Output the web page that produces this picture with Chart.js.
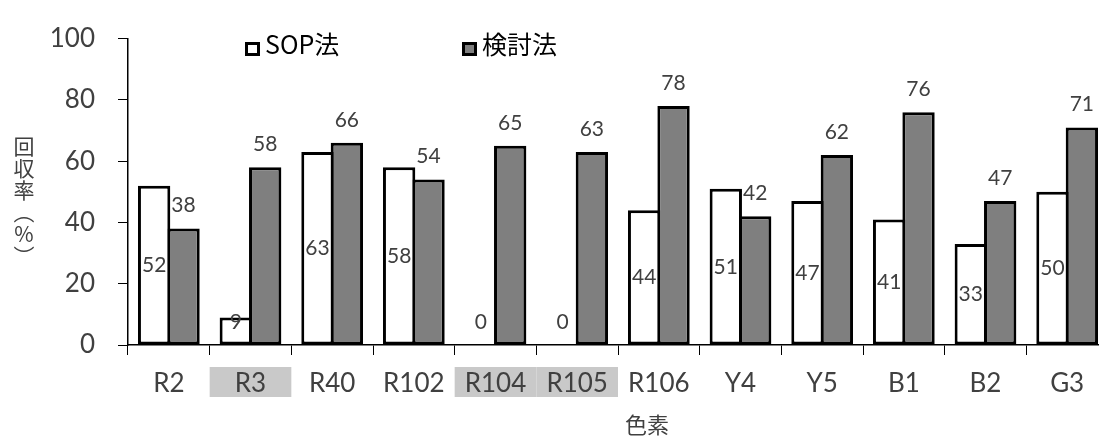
<!DOCTYPE html>
<html>
<head>
<meta charset="utf-8">
<script src="https://cdn.jsdelivr.net/npm/chart.js@4/dist/chart.umd.min.js"></script>
<style>
  body { margin: 0; background: #fff; overflow: hidden; }
  #wrap { position: relative; width: 1108px; height: 439px; }
</style>
</head>
<body>
<div id="wrap"><canvas id="myChart"></canvas></div>
<script>
// data
var categories = ['R2', 'R3', 'R40', 'R102', 'R104', 'R105', 'R106', 'Y4', 'Y5', 'B1', 'B2', 'G3'];
var sop_values = [52, 9, 63, 58, 0, 0, 44, 51, 47, 41, 33, 50];
var kentou_values = [38, 58, 66, 54, 65, 63, 78, 42, 62, 76, 47, 71];
var series_names = ['SOP法', '検討法'];
var highlighted = ['R3', 'R104', 'R105'];
var y_title_chars = ['回', '収', '率', '︵', '%', '︶'];
var x_title = '色素';

var text_color = '#404040';

// grey boxes behind some category labels
var highlight_plugin = {
        id: 'highlight',
        beforeDraw: function (chart) {
                var ctx = chart.ctx;
                var xs = chart.scales.x;
                var w = (chart.chartArea.right - chart.chartArea.left) / categories.length;
                ctx.save();
                ctx.fillStyle = '#c9c9c9';
                for (var name of highlighted) {
                        var i = categories.indexOf(name);
                        var cx = xs.getPixelForValue(i);
                        ctx.fillRect(cx - w / 2, 367, w, 30);
                }
                ctx.restore();
        }
};

// value labels, legend and axis titles
var labels_plugin = {
        id: 'labels',
        afterDatasetsDraw: function (chart) {
                var ctx = chart.ctx;
                var ys = chart.scales.y;
                ctx.save();
                ctx.font = '21px Lato';
                ctx.fillStyle = text_color;
                ctx.textAlign = 'center';
                ctx.textBaseline = 'middle';

                var meta0 = chart.getDatasetMeta(0);
                meta0.data.forEach(function (bar, i) {
                        var v = sop_values[i];
                        var y = ys.getPixelForValue(Math.max(v / 2, 7.5));
                        ctx.fillText(String(v), bar.x, y);
                });
                var meta1 = chart.getDatasetMeta(1);
                meta1.data.forEach(function (bar, i) {
                        ctx.fillText(String(kentou_values[i]), bar.x, bar.y - 23);
                });

                // legend
                var legend_x = [245, 462];
                var fills = [chart.data.datasets[0].backgroundColor, chart.data.datasets[1].backgroundColor];
                ctx.font = '25px "Noto Sans CJK JP"';
                ctx.textAlign = 'left';
                for (var k = 0; k < 2; k++) {
                        ctx.fillStyle = fills[k];
                        ctx.fillRect(legend_x[k], 42, 15, 14);
                        ctx.lineWidth = 3;
                        ctx.strokeStyle = '#000';
                        ctx.strokeRect(legend_x[k] + 1.5, 43.5, 12, 11);
                        ctx.fillStyle = '#000';
                        ctx.fillText(series_names[k], legend_x[k] + 20, 44);
                }

                // y title, vertical
                ctx.font = '21px "Noto Sans CJK JP"';
                ctx.fillStyle = text_color;
                ctx.textAlign = 'center';
                for (var j = 0; j < y_title_chars.length; j++) {
                        ctx.fillText(y_title_chars[j], 24, 146 + j * 22);
                }

                // x title
                ctx.font = '22px "Noto Sans CJK JP"';
                ctx.fillText(x_title, 647, 425);
                ctx.restore();
        }
};

var ctx = document.getElementById('myChart');

var myChart = new Chart(ctx, {
        type: 'bar',
        data: {
                labels: categories,
                datasets: [{
                        label: series_names[0],
                        data: sop_values,
                        backgroundColor: '#ffffff',
                        borderColor: '#000000',
                        borderWidth: 3,
                        borderSkipped: false
                }, {
                        label: series_names[1],
                        data: kentou_values,
                        backgroundColor: '#7f7f7f',
                        borderColor: '#000000',
                        borderWidth: 3,
                        borderSkipped: false
                }]
        },
        options: {
                responsive: true,
                maintainAspectRatio: false,
                animation: false,
                categoryPercentage: 0.72,
                barPercentage: 1.1,
                layout: {
                        padding: { top: 27, left: 0, right: 0, bottom: 0 }
                },
                plugins: {
                        legend: { display: false },
                        tooltip: { enabled: false }
                },
                scales: {
                        x: {
                                offset: true,
                                afterFit: function (scale) { scale.height = 94; },
                                grid: {
                                        offset: true,
                                        drawOnChartArea: false,
                                        drawTicks: true,
                                        tickLength: 10,
                                        color: '#000'
                                },
                                border: { display: true, color: '#000', width: 1.5 },
                                ticks: {
                                        font: { family: 'Lato', size: 26 },
                                        color: text_color,
                                        padding: 13,
                                        maxRotation: 0,
                                        autoSkip: false
                                }
                        },
                        y: {
                                min: 0,
                                max: 100,
                                afterFit: function (scale) { scale.width = 128; },
                                grid: {
                                        drawOnChartArea: false,
                                        drawTicks: true,
                                        tickLength: 10,
                                        color: '#000'
                                },
                                border: { display: true, color: '#000', width: 1.5 },
                                ticks: {
                                        stepSize: 20,
                                        font: { family: 'Lato', size: 26 },
                                        color: text_color,
                                        padding: 23
                                }
                        }
                }
        },
        plugins: [highlight_plugin, labels_plugin]
});
</script>
</body>
</html>
